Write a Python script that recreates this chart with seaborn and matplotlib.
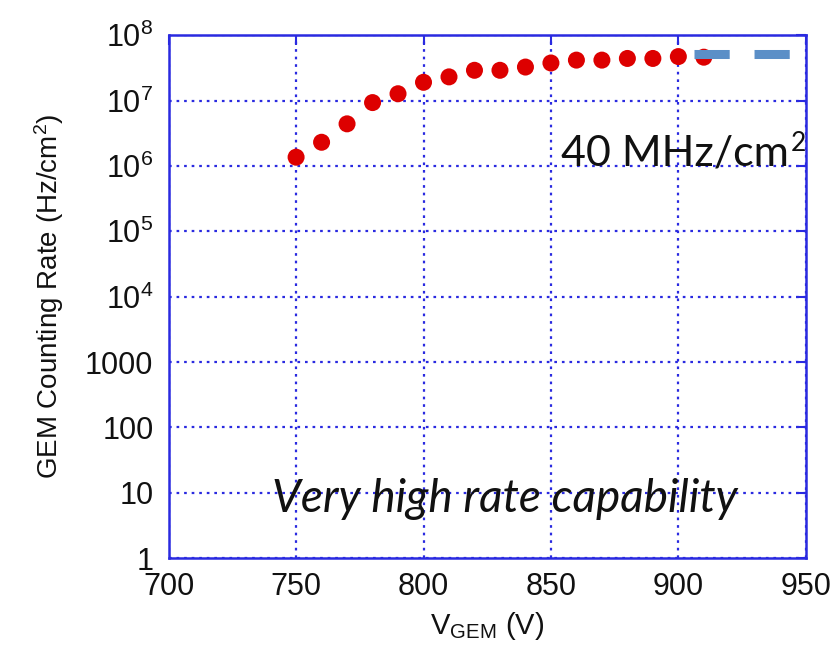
import numpy as np
import pandas as pd
import matplotlib
matplotlib.use("Agg")
import matplotlib.pyplot as plt
import seaborn as sns

# Measured counting rate vs. GEM voltage
v_gem = [750, 760, 770, 780, 790, 800, 810, 820, 830, 840, 850, 860, 870, 880, 890, 900, 910]
rate = [1.36e6, 2.3e6, 4.4e6, 9.3e6, 1.27e7, 1.9e7, 2.3e7, 2.9e7, 2.9e7, 3.25e7, 3.75e7,
        4.15e7, 4.15e7, 4.4e7, 4.4e7, 4.7e7, 4.6e7]

# Reference level marker (dashed)
level_v = [906, 944]
level_rate = [5.1e7, 5.1e7]

x_ticks = [700, 750, 800, 850, 900, 950]
y_ticks = [1, 10, 100, 1000, 1e4, 1e5, 1e6, 1e7, 1e8]
y_tick_labels = ["1", "10", "100", "1000", "$10^4$", "$10^5$", "$10^6$", "$10^7$", "$10^8$"]

sns.set_theme(style="white")
plt.rcParams["font.family"] = ["Liberation Sans", "DejaVu Sans"]
plt.rcParams["mathtext.fontset"] = "custom"
plt.rcParams["mathtext.rm"] = "Liberation Sans"
plt.rcParams["mathtext.it"] = "Liberation Sans:italic"
plt.rcParams["mathtext.bf"] = "Liberation Sans:bold"

blue = "#2a2ae0"

fig = plt.figure(figsize=(8.35, 6.63), dpi=100)
ax = fig.add_axes([0.202, 0.158, 0.763, 0.789])

df = pd.DataFrame({"v": v_gem, "rate": rate})
sns.scatterplot(data=df, x="v", y="rate", ax=ax, color="#dd0000", s=150,
                edgecolor="none", zorder=3)

lvl = pd.DataFrame({"v": level_v, "rate": level_rate})
sns.lineplot(data=lvl, x="v", y="rate", ax=ax, color="#5b8fc7", linewidth=6.5,
             zorder=4, clip_on=False)
ax.lines[-1].set_dashes([3.9, 2.75])
ax.lines[-1].set_solid_capstyle("butt")
ax.lines[-1].set_dash_capstyle("butt")

ax.set_yscale("log")
ax.set_xlim(700, 950)
ax.set_ylim(1, 1e8)
ax.set_xticks(x_ticks)
ax.set_xticklabels([str(t) for t in x_ticks])
ax.set_yticks(y_ticks)
ax.set_yticklabels(y_tick_labels)
ax.yaxis.set_minor_locator(matplotlib.ticker.NullLocator())

ax.grid(True, which="major", color=blue, linestyle=(0, (1.2, 2.2)), linewidth=1.6)
for sp in ax.spines.values():
    sp.set_color(blue)
    sp.set_linewidth(1.8)
ax.tick_params(axis="both", which="major", direction="in", length=7, width=1.5,
               color=blue, top=True, right=True, labelsize=22,
               labelcolor="#111111")
ax.tick_params(axis="y", pad=11)
ax.tick_params(axis="x", pad=10)

ax.set_xlabel("V$_{\\mathrm{GEM}}$ (V)", fontsize=21, labelpad=6, color="#111111")
ax.set_ylabel("GEM Counting Rate (Hz/cm$^{2}$)", fontsize=20, labelpad=14, color="#111111")

# Annotation with a full-size raised exponent
rate_txt = fig.text(0.672, 0.75, "40 MHz/cm", fontsize=31, family=["Lato", "DejaVu Sans"],
                    color="#111111", ha="left", va="baseline")
fig.canvas.draw()
bb = rate_txt.get_window_extent(renderer=fig.canvas.get_renderer())
fig.text(bb.x1 / fig.bbox.width + 0.002, 0.75 + 0.022, "2", fontsize=19,
         family=["Lato", "DejaVu Sans"], color="#111111", ha="left", va="baseline")

fig.text(0.326, 0.228, "Very high rate capability", fontsize=33,
         family=["Lato", "DejaVu Sans"], style="italic", color="#111111",
         ha="left", va="baseline")

fig.savefig("out.png", dpi=100)
